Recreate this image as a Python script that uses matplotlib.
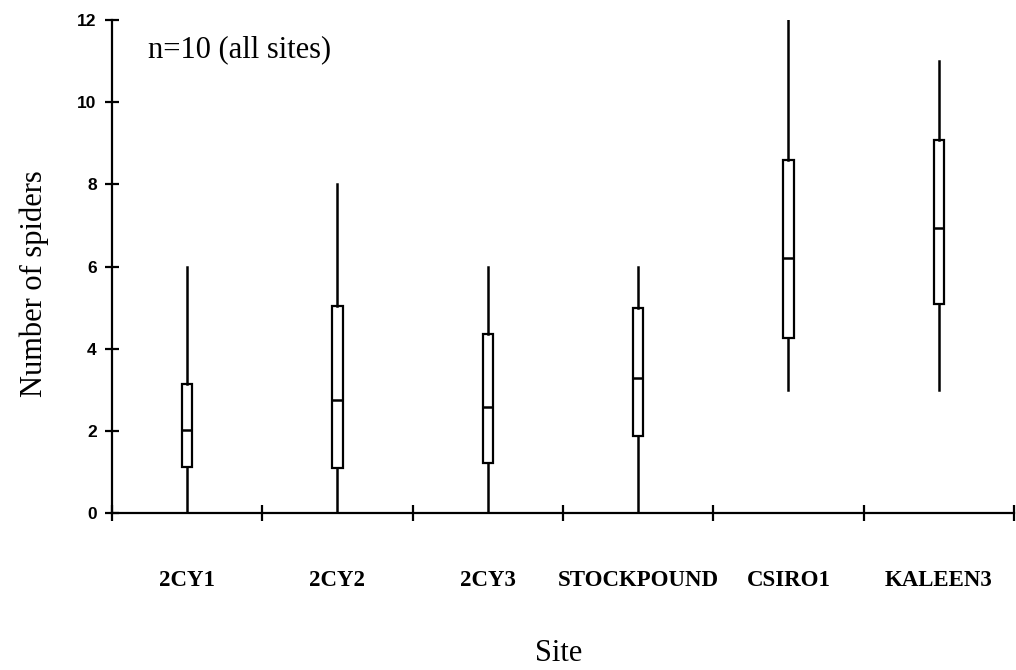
import matplotlib
matplotlib.use("Agg")
import matplotlib.pyplot as plt

sites = ["2CY1", "2CY2", "2CY3", "STOCKPOUND", "CSIRO1", "KALEEN3"]
whisker_low = [0, 0, 0, 0, 3, 3]
q1 = [1.12, 1.1, 1.22, 1.88, 4.25, 5.1]
median = [2.02, 2.75, 2.58, 3.28, 6.22, 6.95]
q3 = [3.15, 5.05, 4.37, 5.0, 8.6, 9.08]
whisker_high = [6, 8, 6, 6, 12, 11]
y_ticks = [0, 2, 4, 6, 8, 10, 12]

serif = ["Liberation Serif", "DejaVu Serif"]
sans = ["Liberation Sans", "DejaVu Sans"]

fig = plt.figure(figsize=(10.16, 6.7), dpi=100)
ax = fig.add_axes([0.1102, 0.2343, 0.8878, 0.7357])

positions = [i + 0.5 for i in range(len(sites))]
stats = []
for i, name in enumerate(sites):
    stats.append(dict(label=name, whislo=whisker_low[i], q1=q1[i], med=median[i],
                      q3=q3[i], whishi=whisker_high[i], fliers=[]))

ax.bxp(stats, positions=positions, widths=0.068, showcaps=False, patch_artist=True,
       boxprops=dict(facecolor="white", edgecolor="black", linewidth=1.6),
       whiskerprops=dict(color="black", linewidth=1.8),
       medianprops=dict(color="black", linewidth=1.8),
       manage_ticks=False)

ax.set_xlim(0, 6)
ax.set_ylim(0, 12)
for s in ["top", "right"]:
    ax.spines[s].set_visible(False)
for s in ["left", "bottom"]:
    ax.spines[s].set_linewidth(1.6)
    ax.spines[s].set_clip_on(False)

ax.set_yticks(y_ticks)
ax.set_yticklabels([str(v) for v in y_ticks], family=sans, fontweight="bold", fontsize=12.5)
ax.tick_params(axis="y", direction="inout", length=10, width=1.6, pad=6)

ax.set_xticks(range(0, 7))
ax.set_xticklabels([])
ax.tick_params(axis="x", which="major", direction="inout", length=11, width=1.6)
ax.set_xticks(positions, minor=True)
ax.set_xticklabels(sites, minor=True, family=serif, fontweight="bold", fontsize=16.5)
ax.tick_params(axis="x", which="minor", length=0, pad=41)

ax.set_xlabel("Site", family=serif, fontsize=22)
ax.xaxis.set_label_coords(0.495, -0.255)
ax.set_ylabel("Number of spiders", family=serif, fontsize=22)
ax.yaxis.set_label_coords(-0.07, 0.465)

ax.text(0.04, 0.94, "n=10 (all sites)", transform=ax.transAxes, family=serif,
        fontsize=22, va="center", ha="left")

fig.savefig("out.png", dpi=100)
